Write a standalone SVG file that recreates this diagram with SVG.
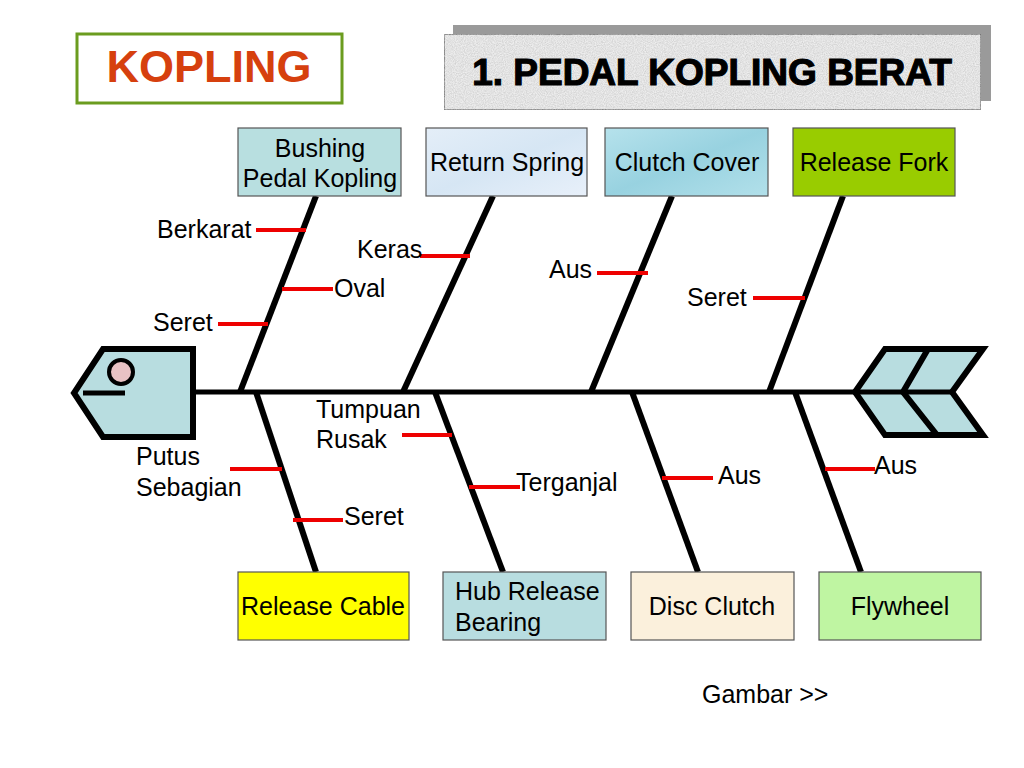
<svg xmlns="http://www.w3.org/2000/svg" width="1024" height="768" viewBox="0 0 1024 768">
<defs>
<style>
.t{font-family:"Liberation Sans",Arial,sans-serif;font-size:25px;fill:#000}
.c{text-anchor:middle}
.box{stroke:#555;stroke-width:1.2}
.bone{stroke:#000;stroke-width:6;stroke-linecap:butt;fill:none}
.tick{stroke:#ee0000;stroke-width:4}
.fish{fill:#b8dde0;stroke:#000;stroke-width:6;stroke-linejoin:miter}
</style>
<linearGradient id="gSpring" x1="0" y1="0" x2="1" y2="1">
<stop offset="0" stop-color="#e4eef8"/><stop offset="0.5" stop-color="#d6e6f4"/><stop offset="1" stop-color="#e8f0fa"/>
</linearGradient>
<linearGradient id="gCover" x1="0" y1="0" x2="1" y2="1">
<stop offset="0" stop-color="#b6e2ec"/><stop offset="0.5" stop-color="#98d2e0"/><stop offset="1" stop-color="#b2e0ea"/>
</linearGradient>
<filter id="noise" x="0" y="0" width="1" height="1">
<feTurbulence type="fractalNoise" baseFrequency="0.9" numOctaves="2" seed="3" result="n"/>
<feColorMatrix in="n" type="matrix" values="0 0 0 0 0.55  0 0 0 0 0.55  0 0 0 0 0.55  0 0 0 -1.2 0.9" result="g"/>
<feComposite in="g" in2="SourceGraphic" operator="in" result="gg"/>
<feMerge><feMergeNode in="SourceGraphic"/><feMergeNode in="gg"/></feMerge>
</filter>
</defs>
<rect width="1024" height="768" fill="#fff"/>

<g id="kopling-title">
<rect x="77" y="34" width="265" height="69" fill="#fff" stroke="#6b9c1f" stroke-width="3"/>
<text x="209" y="82" class="c" style="font-family:'Liberation Sans',Arial,sans-serif;font-size:45px;font-weight:bold;fill:#d6400e">KOPLING</text>
</g>

<g id="main-title">
<rect x="453" y="25" width="538" height="76" fill="#9a9a9a"/>
<rect x="444" y="34" width="537" height="76" fill="#eeeeee" stroke="#444" stroke-width="1.2" filter="url(#noise)"/>
<text x="712" y="85" class="c" style="font-family:'Liberation Sans',Arial,sans-serif;font-size:37px;font-weight:bold;fill:#000;stroke:#000;stroke-width:1.2">1. PEDAL KOPLING BERAT</text>
</g>

<g id="connectors">
<line x1="190" y1="392" x2="857" y2="392" stroke="#000" stroke-width="5"/>
<line class="bone" x1="316" y1="196" x2="240" y2="392"/>
<line class="bone" x1="493" y1="196" x2="403" y2="392"/>
<line class="bone" x1="672" y1="196" x2="591" y2="392"/>
<line class="bone" x1="843" y1="196" x2="769" y2="392"/>
<line class="bone" x1="256" y1="392" x2="316" y2="572"/>
<line class="bone" x1="435" y1="392" x2="503" y2="572"/>
<line class="bone" x1="632" y1="392" x2="698" y2="572"/>
<line class="bone" x1="795" y1="392" x2="861" y2="572"/>
<line class="tick" x1="256" y1="230" x2="306" y2="230"/>
<line class="tick" x1="282" y1="289" x2="333" y2="289"/>
<line class="tick" x1="218" y1="324" x2="268" y2="324"/>
<line class="tick" x1="420" y1="256" x2="470" y2="256"/>
<line class="tick" x1="597" y1="273" x2="648" y2="273"/>
<line class="tick" x1="753" y1="298" x2="805" y2="298"/>
<line class="tick" x1="230" y1="469" x2="282" y2="469"/>
<line class="tick" x1="293" y1="520" x2="343" y2="520"/>
<line class="tick" x1="402" y1="435" x2="452" y2="435"/>
<line class="tick" x1="469" y1="487" x2="520" y2="487"/>
<line class="tick" x1="662" y1="478" x2="713" y2="478"/>
<line class="tick" x1="825" y1="469" x2="875" y2="469"/>
</g>

<g id="fish-head">
<polygon class="fish" points="103,349 193,349 193,437 103,437 74,393"/>
<circle cx="121" cy="372" r="12" fill="#e8c2c4" stroke="#000" stroke-width="4"/>
<line x1="83" y1="393" x2="125" y2="393" stroke="#000" stroke-width="5"/>
</g>

<g id="fish-tail">
<polygon class="fish" points="855,392 885,349 983,349 952,392 983,435 885,435"/>
<polyline points="928,349 903,392 937,435" fill="none" stroke="#000" stroke-width="6"/>
<line x1="855" y1="392" x2="952" y2="392" stroke="#000" stroke-width="5"/>
</g>

<g id="node-bushing">
<rect class="box" x="238" y="128" width="163" height="68" fill="#b8dfe0"/>
<text class="t c" x="320" y="157">Bushing</text>
<text class="t c" x="320" y="187">Pedal Kopling</text>
</g>
<g id="node-return-spring">
<rect class="box" x="426" y="128" width="161" height="68" fill="url(#gSpring)"/>
<text class="t c" x="507" y="171">Return Spring</text>
</g>
<g id="node-clutch-cover">
<rect class="box" x="605" y="128" width="163" height="68" fill="url(#gCover)"/>
<text class="t c" x="687" y="171">Clutch Cover</text>
</g>
<g id="node-release-fork">
<rect class="box" x="793" y="128" width="162" height="68" fill="#99cc00"/>
<text class="t c" x="874" y="171">Release Fork</text>
</g>

<g id="node-release-cable">
<rect class="box" x="238" y="572" width="171" height="68" fill="#ffff00"/>
<text class="t c" x="323" y="615">Release Cable</text>
</g>
<g id="node-hub-release-bearing">
<rect class="box" x="443" y="572" width="163" height="68" fill="#b8dde0"/>
<text class="t" x="455" y="600">Hub Release</text>
<text class="t" x="455" y="631">Bearing</text>
</g>
<g id="node-disc-clutch">
<rect class="box" x="631" y="572" width="163" height="68" fill="#fbf0dc"/>
<text class="t c" x="712" y="615">Disc Clutch</text>
</g>
<g id="node-flywheel">
<rect class="box" x="819" y="572" width="162" height="68" fill="#bff5a2"/>
<text class="t c" x="900" y="615">Flywheel</text>
</g>

<g id="cause-labels">
<text class="t" x="157" y="238">Berkarat</text>
<text class="t" x="334" y="297">Oval</text>
<text class="t" x="153" y="331">Seret</text>
<text class="t" x="357" y="258">Keras</text>
<text class="t" x="549" y="278">Aus</text>
<text class="t" x="687" y="306">Seret</text>
<text class="t" x="316" y="418">Tumpuan</text>
<text class="t" x="316" y="448">Rusak</text>
<text class="t" x="136" y="465">Putus</text>
<text class="t" x="136" y="496">Sebagian</text>
<text class="t" x="344" y="525">Seret</text>
<text class="t" x="516" y="491">Terganjal</text>
<text class="t" x="718" y="484">Aus</text>
<text class="t" x="874" y="474">Aus</text>
</g>

<g id="gambar-link">
<text class="t" x="702" y="703">Gambar &gt;&gt;</text>
</g>
</svg>
